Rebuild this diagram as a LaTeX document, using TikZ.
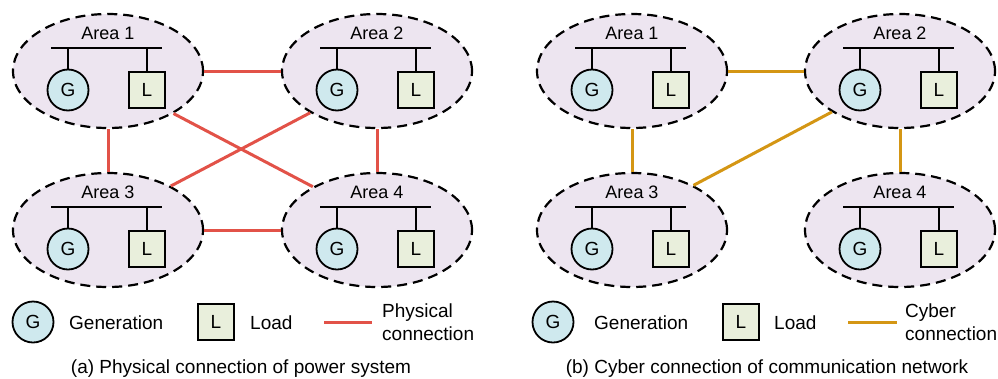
\documentclass[tikz,border=0pt]{standalone}
\usepackage{fontspec}
\setmainfont{Liberation Sans}
\usetikzlibrary{shapes.geometric}
\definecolor{areafill}{RGB}{237,229,240}
\definecolor{genfill}{RGB}{207,233,238}
\definecolor{loadfill}{RGB}{233,239,220}
\definecolor{physc}{RGB}{226,82,72}
\definecolor{cyberc}{RGB}{212,150,20}
\tikzset{
  areabox/.style={ellipse, draw=black, fill=areafill, line width=2.2pt,
    dash pattern=on 10pt off 6pt, minimum width=190pt, minimum height=114pt, inner sep=0pt},
  arealabel/.style={font=\fontsize{18}{18}\selectfont, inner sep=0pt, anchor=base},
  gennode/.style={circle, draw=black, fill=genfill, line width=1.8pt, minimum size=41pt,
    inner sep=0pt, font=\fontsize{19}{19}\selectfont},
  loadnode/.style={rectangle, draw=black, fill=loadfill, line width=1.8pt, minimum size=36pt,
    inner sep=0pt, font=\fontsize{19}{19}\selectfont},
  busline/.style={line width=2.3pt, draw=black},
  physline/.style={draw=physc, line width=3pt},
  cyberline/.style={draw=cyberc, line width=3pt},
  legtext/.style={font=\fontsize{19}{23}\selectfont, inner sep=0pt, anchor=base west},
  captext/.style={font=\fontsize{19}{19}\selectfont, inner sep=0pt, anchor=base},
}
\newcommand\areablock[4]{%
  \node[areabox] (#1) at (#2,#3) {};
  \node[arealabel] (#1t) at (#2,#3-32) {#4};
  \coordinate (#1bl) at (#2-57,#3-23);
  \coordinate (#1br) at (#2+54,#3-23);
  \coordinate (#1gs) at (#2-40,#3-23);
  \coordinate (#1ls) at (#2+39,#3-23);
  \node[gennode] (#1g) at (#2-40,#3+19) {G};
  \node[loadnode] (#1l) at (#2+39,#3+19) {L};
  \draw[busline] (#1bl) -- (#1br);
  \draw[busline] (#1gs) -- (#1g.north);
  \draw[busline] (#1ls) -- (#1l.north);
}
\begin{document}
\begin{tikzpicture}[x=1pt,y=-1pt]
\useasboundingbox (0,0) rectangle (998,378);
% (a) physical
\areablock{a1}{108}{71}{Area 1}
\areablock{a2}{377}{71}{Area 2}
\areablock{a3}{108}{230}{Area 3}
\areablock{a4}{377}{230}{Area 4}
\draw[physline] (a1) -- (a2);
\draw[physline] (a3) -- (a4);
\draw[physline] (a1) -- (a3);
\draw[physline] (a2) -- (a4);
\draw[physline] (a1.-33) -- (a4.146);
\draw[physline] (a2.-148) -- (a3.35);
% (b) cyber
\areablock{b1}{632}{71}{Area 1}
\areablock{b2}{900}{71}{Area 2}
\areablock{b3}{632}{230}{Area 3}
\areablock{b4}{900}{230}{Area 4}
\draw[cyberline] (b1) -- (b2);
\draw[cyberline] (b1) -- (b3);
\draw[cyberline] (b2) -- (b4);
\draw[cyberline] (b2.211) -- (b3.36);
% legend (a)
\node[gennode] (lga) at (33,322) {G};
\node[legtext] (lgta) at (69,329) {Generation};
\node[loadnode] (lla) at (216,322) {L};
\node[legtext] (llta) at (250,329) {Load};
\coordinate (lpa1) at (324,322);
\coordinate (lpa2) at (372,322);
\draw[physline] (lpa1) -- (lpa2);
\node[legtext, anchor=west, align=left] (lpta) at (382,322) {Physical\\connection};
\node[captext] (capa) at (241,373) {(a) Physical connection of power system};
% legend (b)
\node[gennode] (lgb) at (553,322) {G};
\node[legtext] (lgtb) at (594,329) {Generation};
\node[loadnode] (llb) at (741,322) {L};
\node[legtext] (lltb) at (774,329) {Load};
\coordinate (lpb1) at (848,322);
\coordinate (lpb2) at (897,322);
\draw[cyberline] (lpb1) -- (lpb2);
\node[legtext, anchor=west, align=left] (lptb) at (905,322) {Cyber\\connection};
\node[captext] (capb) at (767,373) {(b) Cyber connection of communication network};
\end{tikzpicture}
\end{document}
